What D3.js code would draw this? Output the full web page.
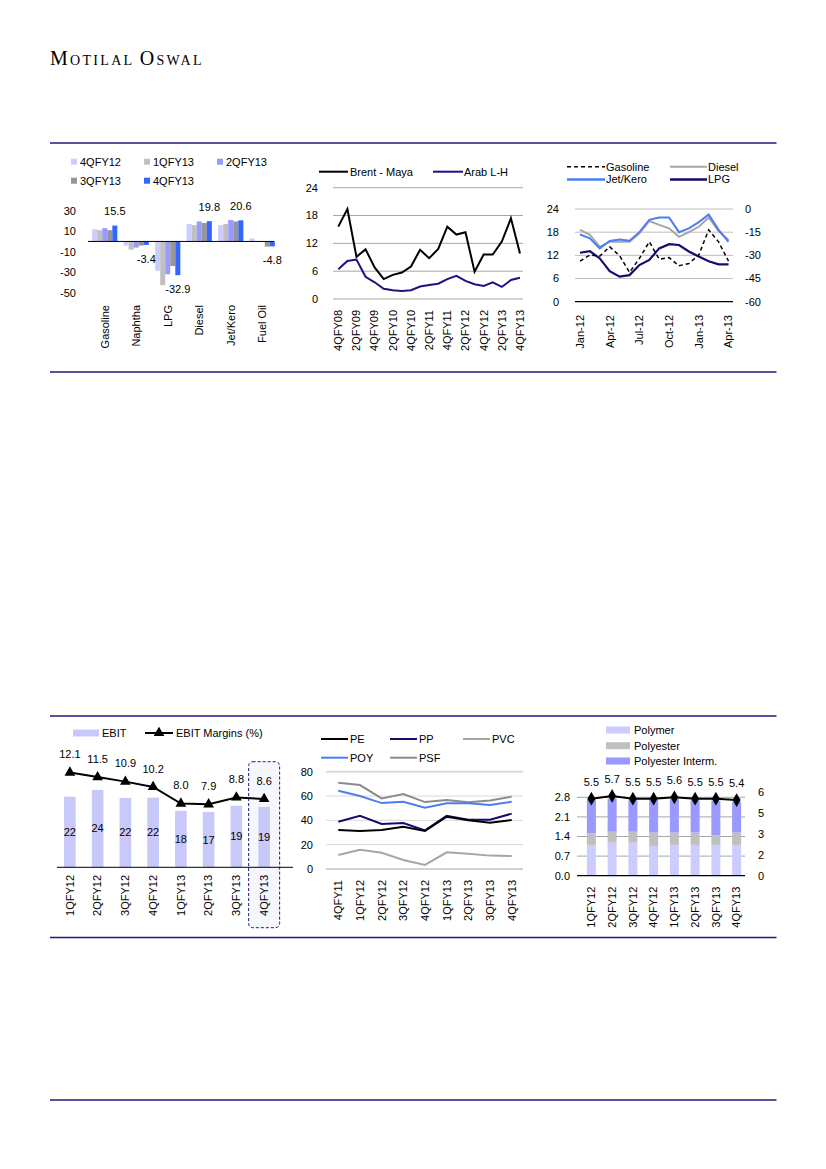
<!DOCTYPE html>
<html><head><meta charset="utf-8">
<script src="https://cdn.jsdelivr.net/npm/d3@7"></script>
<style>
body{margin:0;background:#fff}
svg text{font-family:"Liberation Sans",Arial,sans-serif;font-size:11px;fill:#000}
</style>
</head><body>
<svg id="c" width="826" height="1169"></svg>
<script>
// ---------- DATA ----------
const crackCats = ["Gasoline","Naphtha","LPG","Diesel","Jet/Kero","Fuel Oil"];
const crackSeries = ["4QFY12","1QFY13","2QFY13","3QFY13","4QFY13"];
const crack4QFY12 = [12, -4, -28.6, 17, 16, 3];
const crack1QFY13 = [11, -8, -42.6, 16, 17, 0];
const crack2QFY13 = [13, -6, -32, 19.5, 21, 0];
const crack3QFY13 = [11, -4, -24, 18, 19.5, -5];
const crack4QFY13 = [15.5, -3.4, -32.9, 19.8, 20.6, -4.8];
const crackTicks = [30, 10, -10, -30, -50];

const diffQuarters = ["4QFY08","1QFY09","2QFY09","3QFY09","4QFY09","1QFY10","2QFY10","3QFY10","4QFY10","1QFY11","2QFY11","3QFY11","4QFY11","1QFY12","2QFY12","3QFY12","4QFY12","1QFY13","2QFY13","3QFY13","4QFY13"];
const brentMaya = [15.6,19.4,9.1,10.7,6.8,4.3,5.2,5.7,7.0,10.6,8.8,10.8,15.6,13.9,14.4,5.9,9.6,9.6,12.4,17.4,9.8];
const arabLH = [6.4,8.2,8.5,4.8,3.6,2.2,1.9,1.7,1.9,2.7,3.0,3.3,4.3,5.0,3.9,3.2,2.8,3.6,2.6,4.1,4.6];
const diffTicks = [0, 6, 12, 18, 24];

const months = ["Jan-12","Feb-12","Mar-12","Apr-12","May-12","Jun-12","Jul-12","Aug-12","Sep-12","Oct-12","Nov-12","Dec-12","Jan-13","Feb-13","Mar-13","Apr-13"];
const gasoline = [10.5,12.1,11.8,14.2,11.9,7.6,11.2,15.5,11.0,11.4,9.3,9.9,12.1,18.6,15.5,10.5];
const diesel = [18.6,17.3,14.2,15.5,15.5,15.5,17.7,20.9,19.9,19.0,16.8,18.0,19.4,21.8,18.3,16.0];
const jetKero = [17.4,16.4,13.8,15.7,16.1,15.8,18.0,21.2,21.8,21.8,18.0,19.0,20.6,22.6,18.6,15.5];
const lpg = [-28.3,-27.3,-32.0,-40.3,-43.8,-42.8,-36.3,-33.0,-25.5,-22.8,-23.3,-27.5,-30.8,-33.8,-35.8,-35.8];
const crackLeftTicks = [0, 6, 12, 18, 24];
const crackRightTicks = [-60, -45, -30, -15, 0];

const ebitQuarters = ["1QFY12","2QFY12","3QFY12","4QFY12","1QFY13","2QFY13","3QFY13","4QFY13"];
const ebit = [22.0, 24.1, 21.6, 21.7, 17.6, 17.2, 19.2, 18.8];
const ebitMargin = [12.1, 11.5, 10.9, 10.2, 8.0, 7.9, 8.8, 8.6];

const spreadQuarters = ["4QFY11","1QFY12","2QFY12","3QFY12","4QFY12","1QFY13","2QFY13","3QFY13","4QFY13"];
const pe  = [32, 31.2, 32, 34.8, 31.2, 43, 40, 38, 40.3];
const pp  = [38.9, 43.8, 37, 37.8, 31.8, 43.8, 40.5, 40.5, 45.5];
const pvc = [11.5, 15.9, 13.4, 7.4, 3.3, 13.7, 12.6, 11, 10.7];
const poy = [64.4, 60, 54.2, 55.3, 50.4, 54, 54, 52.6, 55.3];
const psf = [71, 69, 58, 61.6, 55, 56.7, 54.8, 56.4, 59.5];
const spreadTicks = [0, 20, 40, 60, 80];

const polymer    = [1.10, 1.18, 1.18, 1.06, 1.10, 1.10, 1.10, 1.10];
const polyester  = [0.41, 0.39, 0.39, 0.48, 0.44, 0.44, 0.35, 0.44];
const polyInterm = [1.22, 1.19, 1.13, 1.16, 1.20, 1.16, 1.23, 1.10];
const volTotal   = [5.5, 5.7, 5.5, 5.5, 5.6, 5.5, 5.5, 5.4];
const volLeftTicks = [0, 0.7, 1.4, 2.1, 2.8];
const volRightTicks = [0, 1.5, 3, 4.5, 6];
const volRightTickLabels = ["0", "2", "3", "5", "6"];

// ---------- HELPERS ----------
const svg = d3.select("#c");
svg.append("rect").attr("width",826).attr("height",1169).attr("fill","#fff");
const NAVY = "#1a1a80";
function hline(g, x1, x2, y, color, w, dash){
  const l = g.append("line").attr("x1",x1).attr("x2",x2).attr("y1",y).attr("y2",y)
    .attr("stroke",color).attr("stroke-width",w||1);
  if(dash) l.attr("stroke-dasharray",dash);
  return l;
}
function txt(g, x, y, s, anchor){
  return g.append("text").attr("x",x).attr("y",y).attr("dy","0.35em")
    .attr("text-anchor",anchor||"start").text(s);
}
function rotLabel(g, x, yTop, s){
  g.append("text").attr("transform",`translate(${x},${yTop}) rotate(-90)`)
   .attr("text-anchor","end").attr("dy","0.35em").text(s);
}

// ---------- HEADER & RULES ----------
const hdr = svg.append("text").attr("x",50).attr("y",65)
  .style("font-family","'Liberation Serif','DejaVu Serif',serif").style("letter-spacing","2.3px").attr("fill","#222");
[["M",20],["OTILAL ",14],["O",20],["SWAL",14]].forEach(([s,f])=>{
  hdr.append("tspan").style("font-size",f+"px").style("font-family","'Liberation Serif',serif").text(s);
});
[143, 372, 716, 937.5, 1100].forEach(y => hline(svg, 50, 776.5, y, NAVY, 1.3));

// ---------- PANEL 1: cracks bar chart ----------
{
  const g = svg.append("g");
  const x0 = d3.scaleBand().domain(crackCats).range([89,278]).paddingInner(0.2).paddingOuter(0.1);
  const x1 = d3.scaleBand().domain(crackSeries).range([0, x0.bandwidth()]);
  const y = d3.scaleLinear().domain([-50,30]).range([292.7,210.7]);
  const data = [crack4QFY12, crack1QFY13, crack2QFY13, crack3QFY13, crack4QFY13];
  const colors = ["#ccccff","#c0c0c0","#9999ff","#969696","#3366ff"];
  crackSeries.forEach((s,si)=>{
    g.selectAll(null).data(data[si]).join("rect")
      .attr("x",(d,i)=>x0(crackCats[i]) + x1(s))
      .attr("width", x1.bandwidth())
      .attr("y", d => y(Math.max(0,d)))
      .attr("height", d => Math.abs(y(d) - y(0)))
      .attr("fill", colors[si]);
  });
  hline(g, 88, 274, y(0), "#000", 1);
  crackTicks.forEach(t => txt(g, 76, y(t), t, "end"));
  crack4QFY13.forEach((v,i)=>{
    const cx = x0(crackCats[i]) + x1("4QFY13") + x1.bandwidth()/2;
    txt(g, cx, v >= 0 ? y(v) - 14 : y(v) + 14, v.toFixed(1), "middle");
  });
  crackCats.forEach(c => rotLabel(g, x0(c) + x0.bandwidth()/2, 305, c));
  const legPos = [[71,161.7],[144,161.7],[217,161.7],[71,180.7],[144,180.7]];
  crackSeries.forEach((s,i)=>{
    g.append("rect").attr("x",legPos[i][0]).attr("y",legPos[i][1]-3).attr("width",6).attr("height",6).attr("fill",colors[i]);
    txt(g, legPos[i][0]+9, legPos[i][1], s);
  });
}

// ---------- PANEL 2: Brent-Maya / Arab L-H ----------
{
  const g = svg.append("g");
  const x = d3.scalePoint().domain(diffQuarters).range([338.3,520]);
  const y = d3.scaleLinear().domain([0,24]).range([299,187.7]);
  diffTicks.forEach(t => { hline(g, 333, 523, y(t), "#a6a6a6", 1); txt(g, 318, y(t), t, "end"); });
  const line = d3.line().x((d,i)=>x(diffQuarters[i])).y(d=>y(d));
  g.append("path").attr("d",line(arabLH)).attr("fill","none").attr("stroke","#201080").attr("stroke-width",2);
  g.append("path").attr("d",line(brentMaya)).attr("fill","none").attr("stroke","#000").attr("stroke-width",2);
  diffQuarters.forEach((q,i)=>{ if(i%2===0) rotLabel(g, x(q), 310, q); });
  hline(g, 319, 348, 171.7, "#000", 2); txt(g, 350, 171.7, "Brent - Maya");
  hline(g, 433, 463, 171.7, "#201080", 2); txt(g, 464, 171.7, "Arab L-H");
}

// ---------- PANEL 3: product cracks lines ----------
{
  const g = svg.append("g");
  const x = d3.scalePoint().domain(months).range([580,728.5]);
  const yL = d3.scaleLinear().domain([0,24]).range([301.7,209]);
  const yR = d3.scaleLinear().domain([-60,0]).range([301.7,209]);
  crackLeftTicks.forEach(t => { if(t>0) hline(g, 575, 733, yL(t), "#bfbfbf", 1); txt(g, 559, yL(t), t, "end"); });
  crackRightTicks.forEach(t => txt(g, 745, yR(t), t, "start"));
  hline(g, 575, 733, yL(0), "#000", 1.2);
  const lineL = d3.line().x((d,i)=>x(months[i])).y(d=>yL(d));
  const lineR = d3.line().x((d,i)=>x(months[i])).y(d=>yR(d));
  g.append("path").attr("d",lineL(diesel)).attr("fill","none").attr("stroke","#a6a6a6").attr("stroke-width",2);
  g.append("path").attr("d",lineL(jetKero)).attr("fill","none").attr("stroke","#4a7ef2").attr("stroke-width",2);
  g.append("path").attr("d",lineR(lpg)).attr("fill","none").attr("stroke","#150a6e").attr("stroke-width",2.2);
  g.append("path").attr("d",lineL(gasoline)).attr("fill","none").attr("stroke","#000").attr("stroke-width",1.5).attr("stroke-dasharray","4,3");
  months.forEach((m,i)=>{ if(i%3===0) rotLabel(g, x(m), 315, m); });
  hline(g, 567, 605, 166.7, "#000", 1.5, "4,3"); txt(g, 606, 166.7, "Gasoline");
  hline(g, 670, 707, 166.7, "#a6a6a6", 2); txt(g, 708, 166.7, "Diesel");
  hline(g, 567, 605, 179.5, "#4a7ef2", 2.5); txt(g, 606, 179.5, "Jet/Kero");
  hline(g, 670, 707, 179.5, "#150a6e", 2.5); txt(g, 708, 179.5, "LPG");
}

// ---------- PANEL 4: EBIT ----------
{
  const g = svg.append("g");
  const x = d3.scaleBand().domain(ebitQuarters).range([56,278]).paddingInner(0.58).paddingOuter(0.29);
  const y = d3.scaleLinear().domain([0,30]).range([867.3,771]);
  const ym = d3.scaleLinear().domain([0,14]).range([864,758.2]);
  const last = x("4QFY13") + x.bandwidth()/2;
  g.append("rect").attr("x", last-15.5).attr("y",761.7).attr("width",31).attr("height",166).attr("rx",4)
    .attr("fill","#f6f6fd").attr("stroke",NAVY).attr("stroke-width",1).attr("stroke-dasharray","3,2");
  g.selectAll(null).data(ebit).join("rect")
    .attr("x",(d,i)=>x(ebitQuarters[i])).attr("width",x.bandwidth())
    .attr("y",d=>y(d)).attr("height",d=>y(0)-y(d)).attr("fill","#c9c9f9");
  hline(g, 57, 293, y(0), "#000", 1);
  ebit.forEach((v,i)=> txt(g, x(ebitQuarters[i])+x.bandwidth()/2, (y(v)+y(0))/2, Math.round(v), "middle"));
  const line = d3.line().x((d,i)=>x(ebitQuarters[i])+x.bandwidth()/2).y(d=>ym(d));
  g.append("path").attr("d",line(ebitMargin)).attr("fill","none").attr("stroke","#000").attr("stroke-width",2);
  const tri = d3.symbol().type(d3.symbolTriangle).size(50);
  ebitMargin.forEach((v,i)=>{
    const cx = x(ebitQuarters[i])+x.bandwidth()/2;
    g.append("path").attr("d",tri()).attr("transform",`translate(${cx},${ym(v)})`).attr("fill","#000");
    txt(g, cx, ym(v)-18, v.toFixed(1), "middle");
  });
  ebitQuarters.forEach(q => rotLabel(g, x(q)+x.bandwidth()/2, 875, q));
  g.append("rect").attr("x",73).attr("y",729.5).attr("width",26).attr("height",7).attr("fill","#c9c9f9");
  txt(g, 102, 733, "EBIT");
  hline(g, 145, 173, 733, "#000", 2);
  g.append("path").attr("d",tri()).attr("transform","translate(159,733)").attr("fill","#000");
  txt(g, 176, 733, "EBIT Margins (%)");
}

// ---------- PANEL 5: spreads ----------
{
  const g = svg.append("g");
  const x = d3.scalePoint().domain(spreadQuarters).range([338.3,511.7]);
  const y = d3.scaleLinear().domain([0,80]).range([869,771.7]);
  spreadTicks.forEach(t => {
    if(t===0) hline(g, 326, 523, y(t), "#a6a6a6", 1.2);
    else hline(g, 326, 523, y(t), "#d9d9d9", t===80 ? 2 : 1);
    txt(g, 313, y(t), t, "end");
  });
  const line = d3.line().x((d,i)=>x(spreadQuarters[i])).y(d=>y(d));
  const series = [[psf,"#8c8c8c"],[poy,"#4a7ef2"],[pp,"#1a0a70"],[pe,"#000"],[pvc,"#a6a6a6"]];
  series.forEach(([d,c]) => g.append("path").attr("d",line(d)).attr("fill","none").attr("stroke",c).attr("stroke-width",2));
  spreadQuarters.forEach(q => rotLabel(g, x(q), 880, q));
  const leg = [["PE","#000",321,739],["PP","#1a0a70",390,739],["PVC","#a6a6a6",463,739],["POY","#4a7ef2",321,757.7],["PSF","#8c8c8c",390,757.7]];
  leg.forEach(([n,c,lx,ly]) => { hline(g, lx, lx+27, ly, c, 2); txt(g, lx+29, ly, n); });
}

// ---------- PANEL 6: volumes ----------
{
  const g = svg.append("g");
  const x = d3.scaleBand().domain(ebitQuarters).range([581,747]).paddingInner(0.566).paddingOuter(0.283);
  const yL = d3.scaleLinear().domain([0,3]).range([875.7,791.7]);
  const yR = d3.scaleLinear().domain([0,6]).range([875.7,791.7]);
  volLeftTicks.forEach(t => { if(t>0) hline(g, 577, 745, yL(t), "#a6a6a6", 1); txt(g, 570, yL(t), t.toFixed(1), "end"); });
  volRightTicks.forEach((t,i) => txt(g, 758, yR(t), volRightTickLabels[i], "start"));
  const stackKeys = ["polymer","polyester","interm"];
  const rows = ebitQuarters.map((q,i)=>({q, polymer:polymer[i], polyester:polyester[i], interm:polyInterm[i]}));
  const stack = d3.stack().keys(stackKeys)(rows);
  const sc = ["#ccccff","#c0c0c0","#9999ff"];
  stack.forEach((layer,li)=>{
    g.selectAll(null).data(layer).join("rect")
      .attr("x",d=>x(d.data.q)).attr("width",x.bandwidth())
      .attr("y",d=>yL(d[1])).attr("height",d=>yL(d[0])-yL(d[1])).attr("fill",sc[li]);
  });
  hline(g, 577, 745, yL(0), "#000", 1.2);
  const line = d3.line().x((d,i)=>x(ebitQuarters[i])+x.bandwidth()/2).y(d=>yR(d));
  g.append("path").attr("d",line(volTotal)).attr("fill","none").attr("stroke","#000").attr("stroke-width",2);
  const dia = d3.symbol().type(d3.symbolDiamond).size(55);
  volTotal.forEach((v,i)=>{
    const cx = x(ebitQuarters[i])+x.bandwidth()/2;
    g.append("path").attr("d",dia()).attr("transform",`translate(${cx},${yR(v)})`).attr("fill","#000");
    txt(g, cx, yR(v)-17, v.toFixed(1), "middle");
  });
  ebitQuarters.forEach(q => rotLabel(g, x(q)+x.bandwidth()/2, 886.7, q));
  const leg = [["Polymer",730],["Polyester",745.7],["Polyester Interm.",761]];
  leg.forEach(([n,ly],i)=>{
    g.append("rect").attr("x",606).attr("y",ly-3.5).attr("width",24).attr("height",7).attr("fill",sc[i]);
    txt(g, 634, ly, n);
  });
}
</script>
</body></html>
